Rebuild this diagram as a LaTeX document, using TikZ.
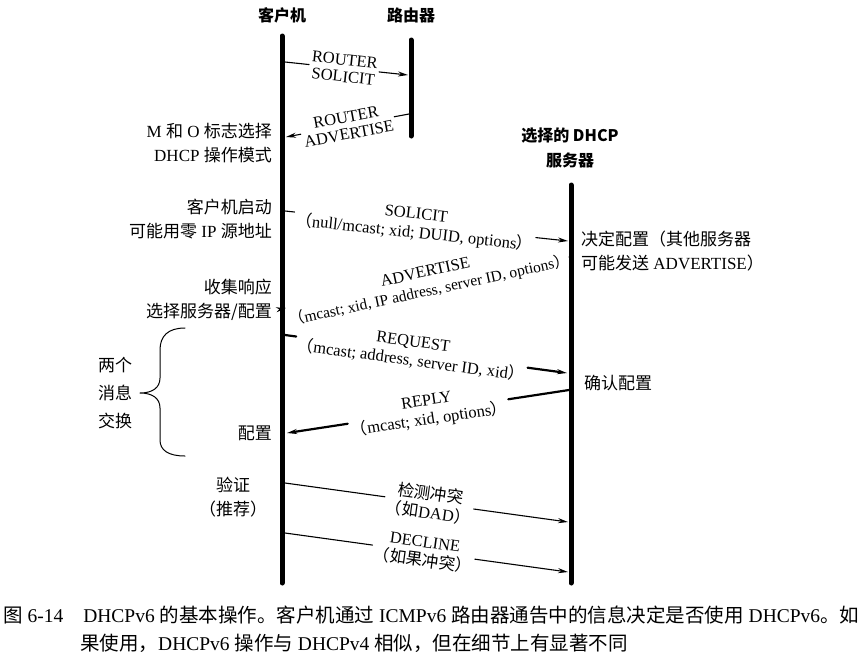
\documentclass[tikz,border=0pt]{standalone}
\usepackage{fontspec}
\setmainfont{Liberation Serif}
\newfontfamily\cjk{Noto Sans CJK SC}
\newcommand\zh[1]{{\cjk #1}}
\XeTeXlinebreaklocale "zh"
\XeTeXlinebreakskip=0pt plus 2pt
\usetikzlibrary{arrows.meta}

\begin{document}
\begin{tikzpicture}[x=1pt, y=-1pt, >={Stealth[length=10pt,width=5pt]}, line cap=round, line join=round,
	font=\fontsize{16.5}{19}\selectfont,
	lifeline/.style={line width=5pt},
	msg/.style={->, line width=1.1pt},
	boldmsg/.style={->, line width=2.2pt},
	lbl/.style={sloped, inner sep=2pt, align=center},
	head/.style={font=\cjk\bfseries\fontsize{16}{25}\selectfont, align=center},
	note/.style={font=\fontsize{17}{24}\selectfont, inner sep=0pt}]
	\useasboundingbox (0,0) rectangle (864,665);
	% lifelines
	\node[head] (hcli) at (282,15) {客户机};
	\node[head] (hrtr) at (411,15) {路由器};
	\node[head] (hsrv) at (570,148) {选择的 DHCP\\服务器};
	\coordinate (cli top) at (282,36); \coordinate (cli bot) at (282,583);
	\coordinate (rtr top) at (411,40); \coordinate (rtr bot) at (411,136);
	\coordinate (srv top) at (571,185); \coordinate (srv bot) at (571,583);
	\draw[lifeline] (cli top) -- (cli bot);
	\draw[lifeline] (rtr top) -- (rtr bot);
	\draw[lifeline] (srv top) -- (srv bot);
	% end points of the messages
	\coordinate (c1) at (285,62); \coordinate (r1) at (408,75);
	\coordinate (r2) at (409,114); \coordinate (c2) at (286,137);
	\coordinate (c3) at (285,211); \coordinate (s3) at (568,241);
	\coordinate (s4) at (569,257); \coordinate (c4) at (286,308);
	\coordinate (c5) at (285,335); \coordinate (s5) at (567,373);
	\coordinate (s6) at (569,390); \coordinate (c6) at (287,433);
	\coordinate (c7) at (285,483); \coordinate (s7) at (568,522);
	\coordinate (c8) at (285,533); \coordinate (s8) at (568,572);
	% labels on the messages
	\path (c1) -- node[lbl, pos=.48] (rsol) {ROUTER\\[-2pt]SOLICIT} (r1);
	\path (r2) -- node[lbl, pos=.5] (radv) {ROUTER\\[-2pt]ADVERTISE} (c2);
	\path (c3) -- node[lbl, pos=.46] (sol) {SOLICIT\\\zh{（}null/mcast; xid; DUID, options\zh{）}} (s3);
	\path (s4) -- node[lbl, pos=.5, rotate=2] (adv) {ADVERTISE\\{\fontsize{15.5}{19}\selectfont\zh{（}mcast; xid, IP address, server ID, options\zh{）}}} (c4);
	\path (c5) -- node[lbl, pos=.45] (req) {REQUEST\\\zh{（}mcast; address, server ID, xid\zh{）}} (s5);
	\path (s6) -- node[lbl, pos=.5] (rep) {REPLY\\\zh{（}mcast; xid, options\zh{）}} (c6);
	\path (c7) -- node[lbl, pos=.51] (dad) {\zh{检测冲突}\\\zh{（如}DAD\zh{）}} (s7);
	\path (c8) -- node[lbl, pos=.49] (dec) {DECLINE\\\zh{（如果冲突）}} (s8);
	% messages
	\draw[msg] (c1) -- (rsol) (rsol) -- (r1);
	\draw[msg] (r2) -- (radv) (radv) -- (c2);
	\draw[msg] (c3) -- (sol) (sol) -- (s3);
	\draw[msg] (s4) -- (adv) (adv) -- (c4);
	\draw[boldmsg] (c5) -- (req) (req) -- (s5);
	\draw[boldmsg] (s6) -- (rep) (rep) -- (c6);
	\draw[msg] (c7) -- (dad) (dad) -- (s7);
	\draw[msg] (c8) -- (dec) (dec) -- (s8);
	% notes
	\node[note, anchor=east, align=right] (mo) at (272,143) {M \zh{和} O \zh{标志选择}\\DHCP \zh{操作模式}};
	\node[note, anchor=east, align=right] (start) at (272,219) {\zh{客户机启动}\\\zh{可能用零} IP \zh{源地址}};
	\node[note, anchor=east, align=right] (coll) at (272,300) {\zh{收集响应}\\\zh{选择服务器/配置}};
	\node[note, anchor=west, align=left] (dec cfg) at (581,251) {\zh{决定配置（其他服务器}\\\zh{可能发送} ADVERTISE\zh{）}};
	\node[note, anchor=west] (ack) at (584,383) {\zh{确认配置}};
	\node[note, anchor=east] (cfg) at (272,433) {\zh{配置}};
	\node[note, align=center] (verif) at (233,497) {\zh{验证}\\\zh{（推荐）}};
	% brace
	\draw[line width=1pt] (185,328) .. controls (168,328) and (160,336) .. (160,350) -- (160,378)
		.. controls (160,388) and (152,393) .. (140,393) .. controls (152,393) and (160,398) .. (160,408)
		-- (160,440) .. controls (160,450) and (168,456) .. (185,456);
	\node[note, align=center, font=\fontsize{17}{28}\selectfont] (two) at (115,393) {\zh{两个}\\\zh{消息}\\\zh{交换}};
	% caption
	\node[anchor=north west, inner sep=0pt, text width=856pt, align=justify, font=\fontsize{19.5}{28}\selectfont] (cap) at (3,606)
		{\zh{图} 6-14\hspace{20pt}DHCPv6 \zh{的基本操作。客户机通过} ICMPv6 \zh{路由器通告中的信息决定是否使用} DHCPv6\zh{。如}\linebreak
		\hspace*{77pt}\zh{果使用，}DHCPv6 \zh{操作与} DHCPv4 \zh{相似，但在细节上有显著不同}};
\end{tikzpicture}
\end{document}
